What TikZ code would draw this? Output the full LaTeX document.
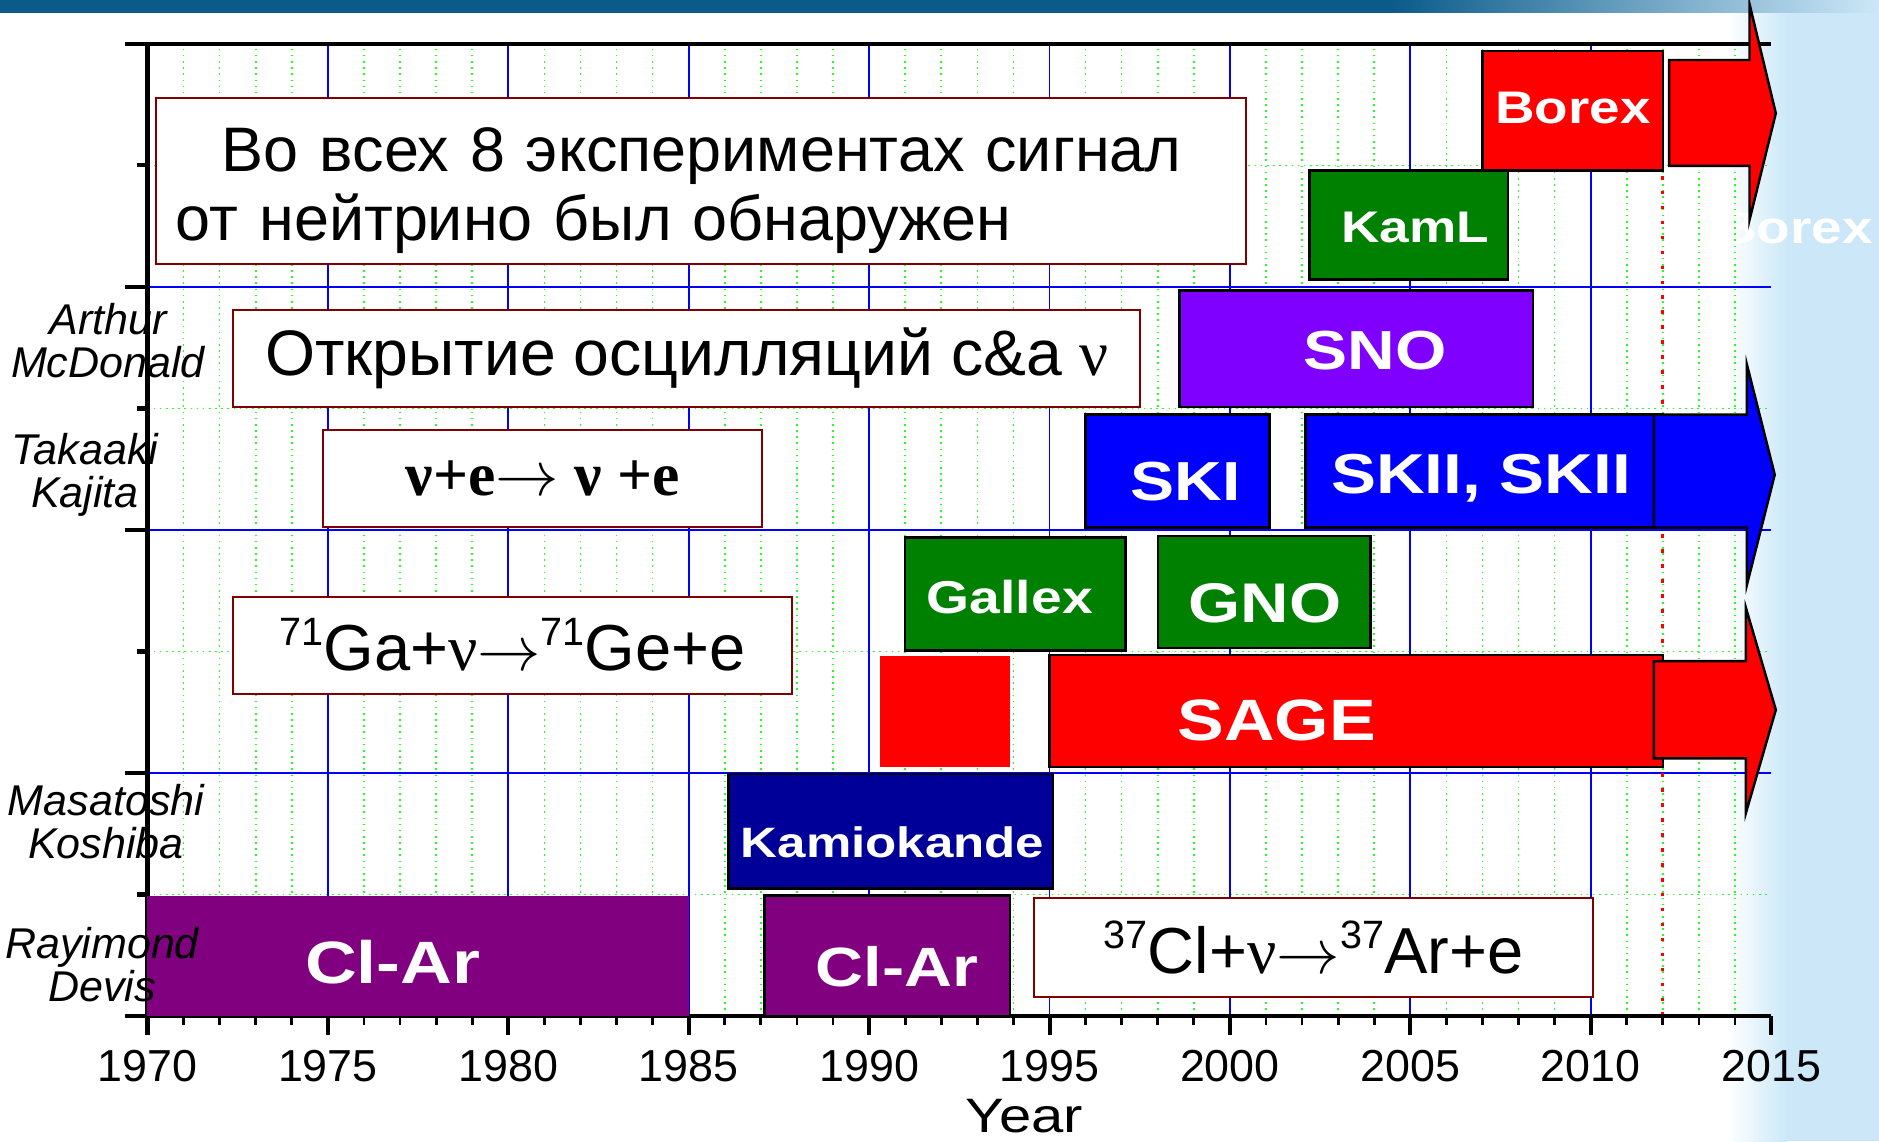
\documentclass[tikz,border=0pt]{standalone}
\usepackage{fontspec}
\setmainfont{Liberation Sans}
\newfontfamily\barfont[FakeStretch=1.2]{Liberation Sans Bold}
\newfontfamily\widefont[FakeStretch=1.2]{Liberation Sans}
\newfontfamily\timesfont{Liberation Serif}
\usetikzlibrary{arrows.meta,positioning}
\definecolor{bannerblue}{HTML}{0A5A8A}
\definecolor{skyblue}{HTML}{CCE8F8}
\definecolor{gridgreen}{HTML}{22FF22}
\definecolor{boxred}{HTML}{800000}
\definecolor{barred}{HTML}{FF0000}
\definecolor{bargreen}{HTML}{008000}
\definecolor{barviolet}{HTML}{8000FF}
\definecolor{barblue}{HTML}{0000FF}
\definecolor{barnavy}{HTML}{000099}
\definecolor{barpurple}{HTML}{800080}
% mass number in front of an element, and the reaction arrow
\newcommand{\nucl}[1]{\raisebox{0.72ex}{\fontsize{22.5}{22.5}\selectfont #1}}
\newcommand{\yields}{\scalebox{1.45}{\fontsize{24.88}{25}\selectfont$\rightarrow$}}

\begin{document}
\begin{tikzpicture}[
  x=0.7216cm, y=2.43cm,
  axis/.style={line width=2.3pt},
  major/.style={draw=blue, line width=1pt},
  minor/.style={draw=gridgreen, line width=0.9pt, dash pattern=on 0.9pt off 2.6pt},
  bar/.style={draw=black, line width=1.4pt},
  barlabel/.style={text=white, inner sep=0pt, font={\barfont\fontsize{#1}{#1}\selectfont}},
  textbox/.style={draw=boxred, fill=white, line width=1.1pt, inner sep=0pt, font=\fontsize{35.8}{39}\selectfont},
  bigarrow/.style={draw=black, line width=1.4pt, line join=miter},
  person/.style={align=center, inner sep=0pt, font={\itshape\fontsize{24.5}{24.5}\selectfont}},
  yearlabel/.style={inner sep=0pt, font=\fontsize{25.5}{25.5}\selectfont}
]
  \useasboundingbox (-4.088,-1.029) rectangle (47.99,8.362);
  % background, light band on the right and the title strip
  \fill[white] (-4.088,-1.029) rectangle (47.99,8.362);
  \fill[skyblue] (45.44,-1.029) rectangle (47.99,8.362);
  \shade[left color=white, right color=skyblue] (43.78,-1.029) rectangle (45.44,8.362);
  \fill[bannerblue] (-4.088,8.255) rectangle (34.44,8.362);
  \shade[left color=bannerblue, right color=skyblue] (34.44,8.255) rectangle (47.99,8.362);
  \node[barlabel=26] (ghost) at (45.66,6.486) {Borex};

  % grid
  \foreach \t in {1,...,44} \draw[minor] (\t,0) -- (\t,8);
  \foreach \v in {1,3,5,7} \draw[minor] (0,\v) -- (45,\v);
  \foreach \t in {5,10,...,40} \draw[major] (\t,0) -- (\t,8);
  \foreach \v in {2,4,6} \draw[major] (0,\v) -- (45,\v);
  \draw[barred, line width=1.8pt, dash pattern=on 2pt off 6.5pt] (42,0) -- (42,8);

  % axes
  \draw[axis] (-0.62,8) -- (45,8);
  \draw[axis] (-0.62,0) -- (45,0);
  \draw[axis] (0,-0.155) -- (0,8);
  \foreach \t in {1,...,44} \draw[axis, line width=1.6pt] (\t,0) -- (\t,-0.075);
  \foreach \t in {5,10,...,45} \draw[axis] (\t,0) -- (\t,-0.155);
  \foreach \v in {2,4,6} \draw[axis] (-0.62,\v) -- (0,\v);
  \foreach \v in {1,3,5,7} \draw[axis] (-0.29,\v) -- (0,\v);

  % experiments
  \fill[barpurple] (0,0) rectangle (15,0.99);
  \draw[bar, fill=barpurple] (17.1,0) rectangle (23.9,0.99);
  \draw[bar, fill=barnavy] (16.1,1.05) rectangle (25.1,1.99);
  \fill[barred] (20.3,2.05) rectangle (23.9,2.96);
  \draw[bar, fill=barred] (25,2.05) rectangle (42,2.97);
  \draw[bar, fill=bargreen] (21,3.01) rectangle (27.1,3.94);
  \draw[bar, fill=bargreen] (28,3.03) rectangle (33.9,3.95);
  \draw[bar, fill=barblue] (26,4.02) rectangle (31.1,4.95);
  \draw[bar, fill=barblue] (32.1,4.02) rectangle (42,4.95);
  \draw[bar, fill=barviolet] (28.6,5.01) rectangle (38.4,5.97);
  \draw[bar, fill=bargreen] (32.2,6.06) rectangle (37.7,6.96);
  \draw[bar, fill=barred] (37,6.96) rectangle (42,7.94);

  % running on
  \draw[bigarrow, fill=barred] (41.75,2.12) -- (44.3,2.12) -- (44.3,1.67) -- (45.13,2.52)
    -- (44.3,3.36) -- (44.3,2.92) -- (41.75,2.92) -- cycle;
  \draw[bigarrow, fill=barblue] (41.75,4.02) -- (44.33,4.02) -- (44.33,3.55) -- (45.1,4.455)
    -- (44.33,5.36) -- (44.33,4.95) -- (41.75,4.95) -- cycle;
  \draw[bigarrow, fill=barred] (42.17,6.996) -- (44.4,6.996) -- (44.4,6.55) -- (45.13,7.43)
    -- (44.4,8.33) -- (44.4,7.868) -- (42.17,7.868) -- cycle;

  \node[barlabel=34] (clar) at (6.8,0.444) {Cl-Ar};
  \node[barlabel=31.5] (clar2) at (20.77,0.403) {Cl-Ar};
  \node[barlabel=24.2] (kamiokande) at (20.65,1.432) {Kamiokande};
  \node[barlabel=33.2] (sage) at (31.3,2.436) {SAGE};
  \node[barlabel=26.2] (gallex) at (23.9,3.449) {Gallex};
  \node[barlabel=31.8] (gno) at (30.97,3.4) {GNO};
  \node[barlabel=31.3] (ski) at (28.78,4.395) {SKI};
  \node[barlabel=32] (skii) at (36.96,4.428) {SKII, SKII};
  \node[barlabel=31.3] (sno) at (34.02,5.473) {SNO};
  \node[barlabel=25.2] (kaml) at (35.13,6.486) {KamL};
  \node[barlabel=26] (borex) at (39.51,7.47) {Borex};

  % notes
  \node[textbox, minimum width=21.8cm, minimum height=3.32cm, text width=21cm, align=left]
    (allseen) at (15.34,6.872) {\hspace*{0.92cm}\rule{0pt}{36pt}Во всех 8 экспериментах сигнал\\от нейтрино был обнаружен};
  \node[textbox, minimum width=18.14cm, minimum height=1.94cm, font=\fontsize{36.6}{37}\selectfont]
    (oscill) at (14.95,5.41) {Открытие осцилляций с\&a {\timesfont ν}};
  \node[textbox, minimum width=8.77cm, minimum height=1.94cm, font=\timesfont\bfseries\fontsize{35}{35}\selectfont]
    (scatter) at (10.95,4.424) {ν+e\yields\ ν +e};
  \node[textbox, minimum width=11.17cm, minimum height=1.94cm, font=\fontsize{37}{37}\selectfont]
    (gallium) at (10.12,3.053) {\nucl{71}Ga+{\timesfont ν}\yields\nucl{71}Ge+e};
  \node[textbox, minimum width=11.18cm, minimum height=1.97cm, font=\fontsize{37}{37}\selectfont]
    (chlorine) at (32.32,0.562) {\nucl{37}Cl+{\timesfont ν}\yields\nucl{37}Ar+e};

  % laureates
  \node[person] (mcdonald) at (-1.095,5.556) {Arthur\\McDonald};
  \node[person] (kajita) at (-1.733,4.453) {Takaaki\\Kajita};
  \node[person] (koshiba) at (-1.15,1.597) {Masatoshi\\Koshiba};
  \node[person] (davis) at (-1.26,0.42) {Rayimond\\Devis};

  \foreach \t in {0,5,...,45}
    \node[yearlabel] (year\t) at (\t,-0.41) {\the\numexpr1970+\t\relax};
  \node[inner sep=0pt, font={\widefont\fontsize{27.5}{27.5}\selectfont}] (xlabel) at (24.3,-0.825) {Year};
\end{tikzpicture}
\end{document}
